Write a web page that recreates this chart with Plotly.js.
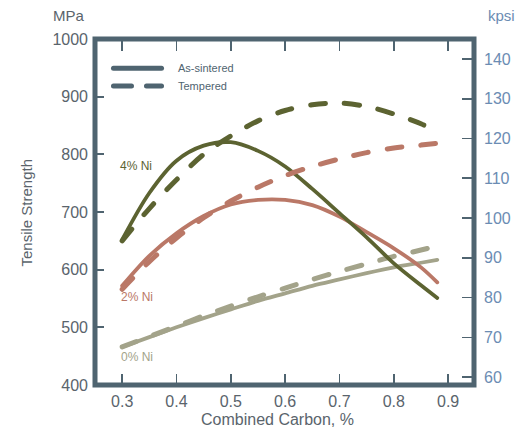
<!DOCTYPE html>
<html>
<head>
<meta charset="utf-8">
<script src="https://cdn.plot.ly/plotly-3.0.1.min.js"></script>
<style>
  html, body { margin: 0; padding: 0; background: #ffffff; }
  #chart { width: 525px; height: 433px; }
  .js-line { stroke-linecap: round; }
  .shapelayer path.legline { stroke-linecap: round; }
</style>
</head>
<body>
<div id="chart"></div>
<script>
// Combined carbon (%)
const carbon = [0.30, 0.35, 0.40, 0.45, 0.50, 0.55, 0.60, 0.65, 0.70, 0.75, 0.80, 0.85, 0.88];

// Tensile strength, MPa
const ni4Sintered = [652, 733, 789, 815, 821, 806, 779, 740, 698, 656, 611, 573, 551];
const ni4Tempered = [650, 706, 756, 800, 832, 858, 876, 886, 889, 883, 870, 853, 838];
const ni2Sintered = [572, 624, 663, 693, 713, 721, 721, 712, 692, 665, 637, 604, 578];
const ni2Tempered = [566, 614, 655, 690, 719, 743, 763, 779, 792, 803, 811, 816, 819];
const ni0Sintered = [466, 483, 500, 516, 531, 546, 559, 572, 583, 594, 604, 612, 617];
const ni0Tempered = [466, 484, 502, 520, 537, 553, 568, 583, 597, 610, 623, 634, 641];

const xTicks = [0.3, 0.4, 0.5, 0.6, 0.7, 0.8, 0.9];
const mpaTicks = [400, 500, 600, 700, 800, 900, 1000];
const kpsiTicks = [60, 70, 80, 90, 100, 110, 120, 130, 140];
const MPA_PER_KPSI = 6.894757;
const mpaRange = [400, 1000];
const carbonRange = [0.25, 0.9476];

const seriesLabels = ["4% Ni", "2% Ni", "0% Ni"];
const legendLabels = ["As-sintered", "Tempered"];

const C4 = "#5c6331", C2 = "#ba7867", C0 = "#a3a38a";
const FRAME = "#4f6470", GRAY = "#5a646c", BLUE = "#6b8cb3";

function tr(y, color, dashed, name) {
  return {
    x: carbon, y: y, type: "scatter", mode: "lines", name: name,
    line: { color: color, width: dashed ? 5 : 3.8, dash: dashed ? "15px,19px" : "solid", shape: "spline", smoothing: 0.9 },
    hoverinfo: "skip", showlegend: false
  };
}

const data = [
  tr(ni0Sintered, C0, false, "0% Ni As-sintered"),
  tr(ni0Tempered, C0, true, "0% Ni Tempered"),
  tr(ni2Sintered, C2, false, "2% Ni As-sintered"),
  tr(ni4Sintered, C4, false, "4% Ni As-sintered"),
  tr(ni2Tempered, C2, true, "2% Ni Tempered"),
  tr(ni4Tempered, C4, true, "4% Ni Tempered")
];

const FONT = "Liberation Sans, Arial, sans-serif";

const layout = {
  width: 525, height: 433,
  margin: { l: 95, r: 51, t: 39, b: 48, pad: 0 },
  paper_bgcolor: "#ffffff", plot_bgcolor: "#ffffff",
  showlegend: false,
  font: { family: FONT, color: GRAY, size: 16 },
  xaxis: {
    range: carbonRange, tickvals: xTicks, ticktext: xTicks.map(v => v.toFixed(1)),
    ticks: "inside", ticklen: 11.5, tickwidth: 1.7, tickcolor: FRAME, mirror: "ticks",
    showline: true, linewidth: 1, linecolor: FRAME, ticklabelstandoff: 2,
    showgrid: false, zeroline: false,
    tickfont: { size: 16, color: GRAY, family: FONT }
  },
  yaxis: {
    range: mpaRange, tickvals: mpaTicks,
    ticks: "inside", ticklen: 8.5, tickwidth: 1.7, tickcolor: FRAME, ticklabelstandoff: 6,
    showline: false, showgrid: false, zeroline: false,
    tickfont: { size: 16, color: GRAY, family: FONT }
  },
  yaxis2: {
    overlaying: "y", side: "right", anchor: "x",
    range: mpaRange.map(v => v / MPA_PER_KPSI), tickvals: kpsiTicks,
    ticks: "inside", ticklen: 12, tickwidth: 1.7, tickcolor: FRAME, ticklabelstandoff: 9,
    showline: false, showgrid: false, zeroline: false,
    tickfont: { size: 16, color: BLUE, family: FONT }
  },
  shapes: [
    { type: "rect", xref: "paper", yref: "paper", x0: 0, x1: 1, y0: 0, y1: 1,
      line: { color: FRAME, width: 5 }, layer: "above" },
    { type: "line", xref: "paper", yref: "paper", x0: 0.0488, x1: 0.1755, y0: 0.9153, y1: 0.9153,
      line: { color: FRAME, width: 5 }, layer: "above", name: "leg1" },
    { type: "line", xref: "paper", yref: "paper", x0: 0.0488, x1: 0.1755, y0: 0.8642, y1: 0.8642,
      line: { color: FRAME, width: 5, dash: "18px,15px" }, layer: "above", name: "leg2" }
  ],
  annotations: [
    { text: "MPa", xref: "paper", yref: "paper", x: -0.0211, y: 1.069, xanchor: "right", yanchor: "middle",
      showarrow: false, font: { size: 15, color: GRAY, family: FONT } },
    { text: "kpsi", xref: "paper", yref: "paper", x: 1.0317, y: 1.069, xanchor: "left", yanchor: "middle",
      showarrow: false, font: { size: 15, color: BLUE, family: FONT } },
    { text: "Tensile Strength", xref: "paper", yref: "paper", x: -0.182, y: 0.4986, xanchor: "center", yanchor: "middle",
      textangle: -90, showarrow: false, font: { size: 15, color: GRAY, family: FONT } },
    { text: "Combined Carbon, %", xref: "paper", yref: "paper", x: 0.4828, y: -0.0983, xanchor: "center", yanchor: "middle",
      showarrow: false, font: { size: 16, color: GRAY, family: FONT } },
    { text: legendLabels[0], xref: "paper", yref: "paper", x: 0.2137, y: 0.9162, xanchor: "left", yanchor: "middle",
      showarrow: false, font: { size: 11, color: FRAME, family: FONT } },
    { text: legendLabels[1], xref: "paper", yref: "paper", x: 0.2137, y: 0.8642, xanchor: "left", yanchor: "middle",
      showarrow: false, font: { size: 11, color: FRAME, family: FONT } },
    { text: seriesLabels[0], xref: "x", yref: "y", x: 0.292, y: 780, xanchor: "left", yanchor: "middle",
      showarrow: false, font: { size: 12, color: C4, family: FONT } },
    { text: seriesLabels[1], xref: "x", yref: "y", x: 0.294, y: 553, xanchor: "left", yanchor: "middle",
      showarrow: false, font: { size: 12, color: C2, family: FONT } },
    { text: seriesLabels[2], xref: "x", yref: "y", x: 0.294, y: 449, xanchor: "left", yanchor: "middle",
      showarrow: false, font: { size: 12, color: C0, family: FONT } }
  ]
};

// an invisible trace so the right-hand kpsi axis is drawn
data.push({ x: [null], y: [null], yaxis: "y2", type: "scatter", mode: "lines", showlegend: false, hoverinfo: "skip" });

Plotly.newPlot("chart", data, layout, { staticPlot: true, displayModeBar: false }).then(function (gd) {
  gd.querySelectorAll(".shapelayer path").forEach(function (p, i) { if (i > 0) p.classList.add("legline"); });
});
</script>
</body>
</html>
